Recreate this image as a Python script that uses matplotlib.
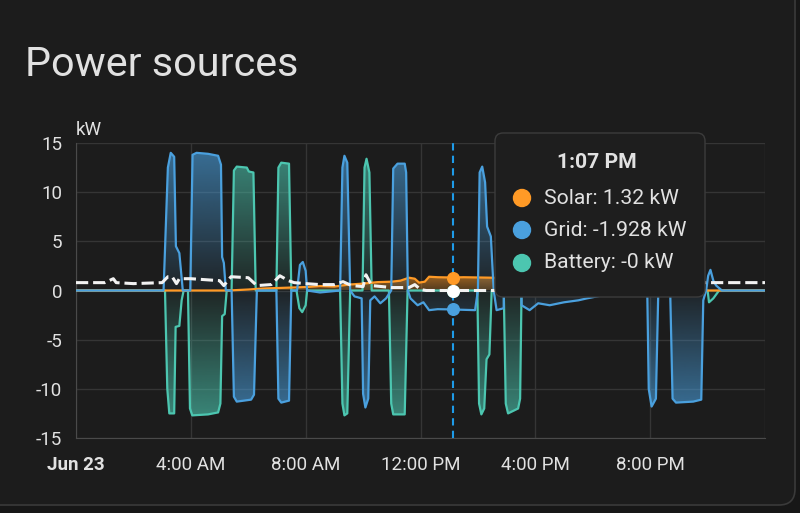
import matplotlib
matplotlib.use("Agg")
import matplotlib.pyplot as plt
import matplotlib.colors as mcolors
from matplotlib.patches import FancyBboxPatch
from matplotlib.path import Path
import numpy as np

plt.rcParams['font.family'] = ['Roboto', 'DejaVu Sans']
plt.rcParams['axes.unicode_minus'] = False

# --- data (hours since midnight, kW) ---
solar_t = [0, 5.3, 6.0, 6.5, 7.0, 7.5, 8.0, 8.5, 9.0, 9.5, 10.0, 10.5, 11.0, 11.3, 11.6,
           11.8, 11.95, 12.15, 12.3, 12.6, 13.1, 13.5, 14.5, 15.5, 16.5, 17.5, 18.5, 19.5, 20.5, 24]
solar_v = [0, 0.0, 0.1, 0.2, 0.25, 0.3, 0.35, 0.45, 0.4, 0.6, 0.7, 0.85, 0.9, 1.0, 1.3,
           1.2, 0.8, 0.9, 1.4, 1.35, 1.32, 1.35, 1.3, 1.2, 1.0, 0.7, 0.4, 0.15, 0.0, 0]

grid_t = [0, 3.05, 3.2, 3.3, 3.42, 3.48, 3.6, 3.72, 3.98, 4.06, 4.2, 4.6, 4.95, 5.05, 5.09,
          5.15, 5.22, 5.42, 5.5, 5.6, 6.1, 6.2, 6.3, 6.98, 7.05, 7.15, 7.42, 7.5, 7.7, 7.8,
          7.9, 8.0, 8.05, 8.5, 9.2, 9.28, 9.35, 9.45, 9.55, 9.7, 9.95, 10.0, 10.08, 10.18, 10.25,
          10.4, 10.6, 10.8, 10.98, 11.05, 11.2, 11.45, 11.5, 11.56, 11.65, 11.9, 12.1, 12.3, 12.6,
          13.1, 13.9, 14.0, 14.06, 14.15, 14.25, 14.32, 14.45, 14.55, 14.65, 14.9, 14.95, 15.45,
          15.52, 15.8, 16.1, 16.5, 17.0, 17.5, 17.8, 18.5, 19.9, 19.95, 20.05, 20.2, 20.28, 20.7,
          20.78, 20.9, 21.5, 21.78, 21.85, 21.95, 22.02, 22.1, 22.2, 22.3, 22.5, 24]
grid_v = [0, 0, 12.5, 14.0, 13.6, 4.5, 3.8, 0, 0, 13.8, 14.0, 13.9, 13.7, 12.8, 3.4,
          2.8, 0, 0, -10.8, -11.3, -11.1, -10.6, 0, 0, -11.0, -11.4, -11.2, 0, 0, 2.6,
          2.9, 2.0, 0, -0.2, 0, 12.5, 13.7, 13.0, 0, -0.6, -0.8, -10.5, -11.9, -11.0, -1.0,
          -0.6, -1.3, -0.8, 0, 12.4, 12.9, 12.9, 12.0, 0, -0.8, -1.5, -1.2, -2.0, -1.9,
          -1.928, -2.0, 0, 12.0, 12.6, 11.0, 6.5, 5.5, 0, -2.0, -1.8, 12.0, 12.0,
          -1.5, -2.0, -1.3, -1.5, -1.2, -1.0, -0.8, -0.4, -0.3, -10.0, -11.8, -11.0, -0.5, -0.4,
          -11.0, -11.4, -11.3, -11.1, -1.0, 0, 1.5, 2.1, 1.0, 0.5, 0, 0]

battery_t = [0, 3.1, 3.18, 3.25, 3.42, 3.47, 3.6, 3.68, 3.75, 3.9, 3.97, 4.05, 4.6, 4.95, 5.03,
             5.09, 5.18, 5.25, 5.42, 5.5, 5.6, 5.95, 6.02, 6.18, 6.26, 6.98, 7.05, 7.15, 7.42, 7.5,
             7.68, 7.78, 7.88, 8.0, 8.05, 9.2, 9.28, 9.35, 9.45, 9.55, 9.98, 10.05, 10.12, 10.22,
             10.3, 10.9, 10.98, 11.05, 11.45, 11.55, 13.98, 14.04, 14.12, 14.22, 14.3, 14.4, 14.48,
             14.9, 14.97, 15.05, 15.4, 15.47, 15.52, 22.0, 22.05, 22.2, 22.4, 24]
battery_v = [0, 0, -10, -12.5, -12.5, -3.7, -3.6, -1.0, 0, 0, -12.0, -12.7, -12.6, -12.4, -11.5,
             -2.6, -2.4, 0, 0, 12.2, 12.6, 12.5, 12.1, 12.0, 0, 0, 12.5, 13.0, 12.9, 0,
             0, -1.8, -2.2, -1.5, 0, 0, -11.5, -12.7, -12.5, 0, 0, 12.5, 13.4, 12.0,
             0, 0, -11.5, -12.6, -12.6, 0, 0, -11.5, -12.6, -12.0, -7.0, -6.5, 0,
             0, -11.5, -12.5, -12.0, -11.0, 0, 0, -1.2, -0.8, 0, 0]

usage_t = [0, 1.0, 1.3, 1.4, 2.0, 3.0, 3.2, 3.35, 3.5, 3.6, 4.0, 5.0, 5.15, 5.4, 6.0, 6.3,
           6.8, 7.1, 7.4, 7.6, 8.0, 8.5, 9.0, 9.3, 9.6, 10.0, 10.1, 10.3, 11.0, 11.6, 11.8,
           12.0, 12.2, 13.1, 14.6, 15.0, 22.0, 24]
usage_v = [0.8, 0.8, 1.2, 0.8, 0.7, 0.8, 1.4, 1.4, 0.7, 1.2, 1.2, 1.0, 0.5, 1.4, 1.3, 0.5,
           0.6, 1.5, 1.0, 0.8, 0.7, 0.6, 0.6, 0.9, 0.5, 0.4, 1.6, 0.5, 0.3, 0.3, 0.6,
           0.1, 0.0, 0.0, 0.0, 0.8, 0.8, 0.8]

x_ticks = [0, 4, 8, 12, 16, 20]
x_labels = ['Jun 23', '4:00 AM', '8:00 AM', '12:00 PM', '4:00 PM', '8:00 PM']
y_ticks = [15, 10, 5, 0, -5, -10, -15]

cursor_t = 13.117
cursor_label = '1:07 PM'
tooltip_rows = [('Solar: 1.32 kW', 'solar'), ('Grid: -1.928 kW', 'grid'), ('Battery: -0 kW', 'battery')]

colors = {'solar': '#ff9a26', 'grid': '#4aa0de', 'battery': '#4cc6b0'}
bg = '#1c1c1c'
text_c = '#e1e1e1'


def gradient_area(ax, t, v, color, lo=0.06, hi=0.6, z=2):
    rgb = mcolors.to_rgb(color)
    t = np.asarray(t, float)
    v = np.asarray(v, float)
    for part in (np.clip(v, 0, None), np.clip(v, None, 0)):
        peak = part[np.argmax(np.abs(part))]
        if abs(peak) < 1e-6:
            continue
        poly = ax.fill_between(t, 0, part, facecolor='none', edgecolor='none')
        path = Path.make_compound_path(*poly.get_paths())
        img = np.zeros((256, 1, 4))
        img[..., :3] = rgb
        a = np.linspace(lo, hi, 256)
        img[:, 0, 3] = a if peak > 0 else a[::-1]
        lo_y, hi_y = (0, peak) if peak > 0 else (peak, 0)
        im = ax.imshow(img, extent=(t[0], t[-1], lo_y, hi_y), origin='lower',
                       aspect='auto', interpolation='bilinear', zorder=z)
        im.set_clip_path(path, ax.transData)


fig = plt.figure(figsize=(8, 5.13), dpi=100, facecolor='#171717')

# card
card = FancyBboxPatch((-0.3, 0.08), 8.25, 5.4, boxstyle='round,pad=0,rounding_size=0.16',
                      transform=fig.dpi_scale_trans, facecolor=bg, edgecolor='#3a3a3a', lw=1.2,
                      zorder=-5)
fig.patches.append(card)

fig.text(25 / 800, 1 - 76 / 513, 'Power sources', fontsize=29.8, color=text_c, va='baseline')

ax = fig.add_axes([76 / 800, 1 - 438 / 513, 689 / 800, 295 / 513])
ax.set_facecolor(bg)

gradient_area(ax, solar_t, solar_v, colors['solar'], lo=0.25, hi=0.55)
gradient_area(ax, grid_t, grid_v, colors['grid'], lo=0.06, hi=0.62)
gradient_area(ax, battery_t, battery_v, colors['battery'], lo=0.06, hi=0.62)

ax.plot(battery_t, battery_v, color=colors['battery'], lw=1.6, zorder=3)
ax.plot(solar_t, solar_v, color=colors['solar'], lw=1.6, zorder=3)
ax.plot(grid_t, grid_v, color=colors['grid'], lw=1.6, zorder=3)
ax.plot(usage_t, usage_v, color='#f2f2f2', lw=2.2, ls=(0, (4, 1.6)), zorder=4)

ax.set_xlim(0, 24)
ax.set_ylim(-15, 15)
ax.set_xticks(x_ticks + [24], x_labels + [''])
ax.set_yticks(y_ticks, [str(y) for y in y_ticks])
ax.grid(True, color='#353535', lw=1)
ax.set_axisbelow(True)
for s in ('top', 'right'):
    ax.spines[s].set_visible(False)
for s in ('left', 'bottom'):
    ax.spines[s].set_color('#4a4a4a')
ax.tick_params(length=0, colors=text_c, labelsize=13.5)
ax.tick_params(axis='y', pad=10)
ax.tick_params(axis='x', pad=13)
ax.get_xticklabels()[0].set_fontweight('bold')
ax.text(0, 1.012, 'kW', transform=ax.transAxes, ha='left', va='bottom', fontsize=13.5,
        color=text_c)

# hover cursor
ax.axvline(cursor_t, color='#1e9be8', lw=1.5, ls=(0, (3.5, 2.5)), zorder=5)
ax.scatter([cursor_t], [0], s=70, color=colors['battery'], zorder=6)
ax.scatter([cursor_t], [0], s=70, color='#ffffff', zorder=6)
ax.scatter([cursor_t], [1.32], s=70, color=colors['solar'], zorder=6)
ax.scatter([cursor_t], [-1.928], s=70, color=colors['grid'], zorder=6)

# tooltip
tip = FancyBboxPatch((4.95, 5.13 - 2.97), 2.10, 1.64, boxstyle='round,pad=0,rounding_size=0.08',
                     transform=fig.dpi_scale_trans, facecolor='#1e1e1e', edgecolor='#3c3c3c',
                     lw=1, zorder=10)
fig.patches.append(tip)
fig.text(597 / 800, 1 - 163 / 513, cursor_label, fontsize=15.2, fontweight='bold',
         color=text_c, ha='center', va='center', zorder=11)
row_y = [198, 230, 263]
for (label, key), yy in zip(tooltip_rows, row_y):
    fig.patches.append(plt.Circle((5.22, (513 - yy) / 100), 0.085, transform=fig.dpi_scale_trans,
                                  color=colors[key], zorder=11))
    fig.text(544 / 800, 1 - yy / 513, label, fontsize=15.2, color=text_c, ha='left',
             va='center', zorder=11)

fig.savefig('out.png', dpi=100, facecolor=fig.get_facecolor())
